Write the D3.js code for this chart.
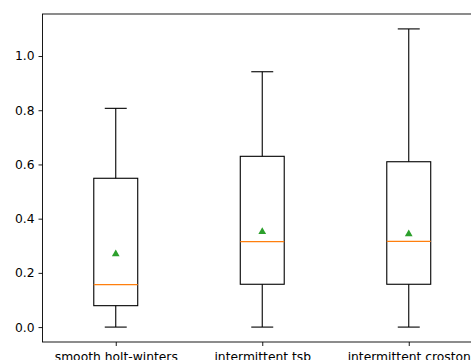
<!DOCTYPE html>
<html>
<head>
	<meta charset="UTF-8" />
	<title>boxplot</title>
	<script src="https://d3js.org/d3.v7.min.js"></script>
	<style type="text/css">
		body{margin:0; background:#fff;}
		svg{display:block;}
		text{font-family:"DejaVu Sans", sans-serif; font-size:12.3px; fill:#000;}
	</style>
</head>
<body>
	<svg id="chart"></svg>

	<script type="text/javascript">
	// data
	var categories = ["smooth holt-winters", "intermittent tsb", "intermittent croston"]
	var whiskerLow = [0.0, 0.0, 0.0]
	var q1 = [0.079, 0.158, 0.158]
	var medians = [0.157, 0.315, 0.316]
	var q3 = [0.549, 0.630, 0.610]
	var whiskerHigh = [0.807, 0.942, 1.10]
	var means = [0.272, 0.354, 0.346]
	var yTicks = [0.0, 0.2, 0.4, 0.6, 0.8, 1.0]

	var rows = categories.map((c, i) => ({
		name: c, lo: whiskerLow[i], q1: q1[i], med: medians[i],
		q3: q3[i], hi: whiskerHigh[i], mean: means[i]
	}))

	// window, axes box runs past the right edge like the reference
	var w = 471
	var h = 360
	var margin = {top: 14, left: 42.5, right: 482, bottom: 342}

	var svg = d3.select("#chart").attr("width", w).attr("height", h)

	var x = d3.scalePoint().domain(categories).range([margin.left, margin.right]).padding(0.5)
	var y = d3.scaleLinear().domain([-0.055, 1.155]).range([margin.bottom, margin.top])

	var boxW = x.step() * 0.3
	var capW = boxW / 2

	var g = svg.append("g")

	var box = g.selectAll(".box").data(rows).enter().append("g").attr("class", "box")

	// whiskers
	box.append("line")
		.attr("x1", d => x(d.name)).attr("x2", d => x(d.name))
		.attr("y1", d => y(d.q3)).attr("y2", d => y(d.hi))
		.attr("stroke", "#000").attr("stroke-width", 1.1)
	box.append("line")
		.attr("x1", d => x(d.name)).attr("x2", d => x(d.name))
		.attr("y1", d => y(d.q1)).attr("y2", d => y(d.lo))
		.attr("stroke", "#000").attr("stroke-width", 1.1)
	// caps
	box.append("line")
		.attr("x1", d => x(d.name) - capW / 2).attr("x2", d => x(d.name) + capW / 2)
		.attr("y1", d => y(d.hi)).attr("y2", d => y(d.hi))
		.attr("stroke", "#000").attr("stroke-width", 1.1)
	box.append("line")
		.attr("x1", d => x(d.name) - capW / 2).attr("x2", d => x(d.name) + capW / 2)
		.attr("y1", d => y(d.lo)).attr("y2", d => y(d.lo))
		.attr("stroke", "#000").attr("stroke-width", 1.1)
	// box
	box.append("rect")
		.attr("x", d => x(d.name) - boxW / 2)
		.attr("y", d => y(d.q3))
		.attr("width", boxW)
		.attr("height", d => y(d.q1) - y(d.q3))
		.attr("fill", "none").attr("stroke", "#000").attr("stroke-width", 1.1)
	// median
	box.append("line")
		.attr("x1", d => x(d.name) - boxW / 2).attr("x2", d => x(d.name) + boxW / 2)
		.attr("y1", d => y(d.med)).attr("y2", d => y(d.med))
		.attr("stroke", "#ff7f0e").attr("stroke-width", 1.2)
	// mean marker
	box.append("path")
		.attr("d", d3.symbol().type(d3.symbolTriangle).size(26))
		.attr("transform", d => "translate(" + x(d.name) + "," + (y(d.mean) + 0.6) + ")")
		.attr("fill", "#2ca02c")

	// axes
	var yAxis = g.append("g")
		.attr("transform", "translate(" + margin.left + ",0)")
		.call(d3.axisLeft(y).tickValues(yTicks).tickFormat(d3.format(".1f")).tickSize(4).tickPadding(4))
	var xAxis = g.append("g")
		.attr("transform", "translate(0," + margin.bottom + ")")
		.call(d3.axisBottom(x).tickSize(4).tickPadding(6))

	yAxis.select(".domain").remove()
	xAxis.select(".domain").remove()
	g.selectAll(".tick line").attr("stroke", "#000").attr("stroke-width", 0.9)
	g.selectAll(".tick text").attr("fill", "#000").style("font-size", "12.3px")

	// frame
	g.append("rect")
		.attr("x", margin.left).attr("y", margin.top)
		.attr("width", margin.right - margin.left).attr("height", margin.bottom - margin.top)
		.attr("fill", "none").attr("stroke", "#000").attr("stroke-width", 0.9)
	</script>
</body>
</html>
